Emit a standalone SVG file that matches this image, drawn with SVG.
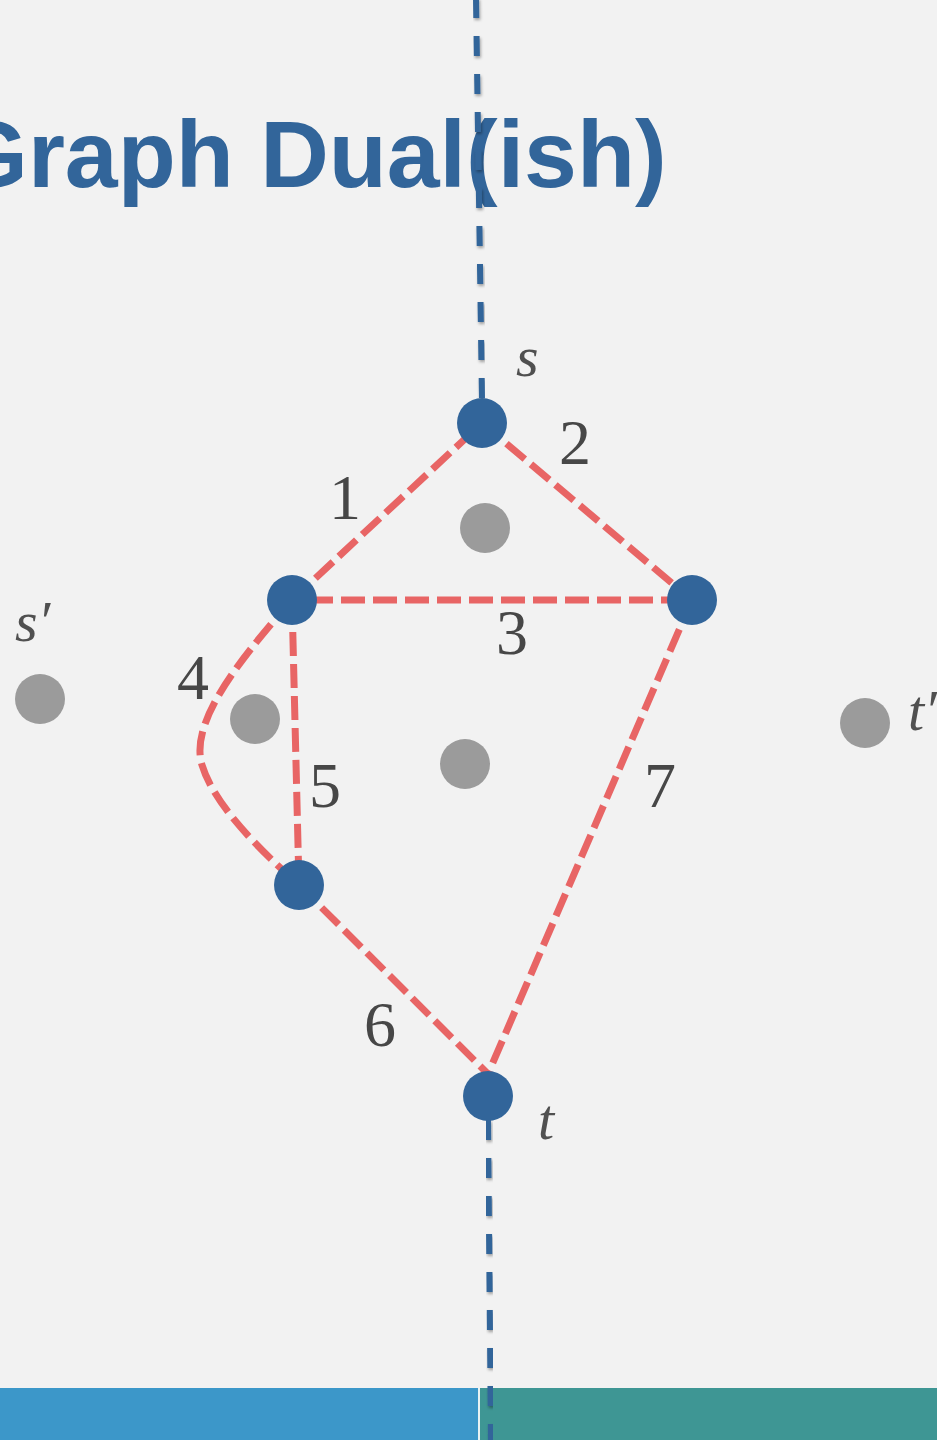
<svg xmlns="http://www.w3.org/2000/svg" width="937" height="1440" viewBox="0 0 937 1440">
  <defs>
    <filter id="sh" x="-50%" y="-5%" width="200%" height="110%">
      <feDropShadow dx="1" dy="2" stdDeviation="1.5" flood-color="#000" flood-opacity="0.35"/>
    </filter>
    <style>
      .title { font-family: "Liberation Sans", Arial, sans-serif; font-weight: bold; font-size: 95px; fill: #32659a; }
      .num { font-family: "Liberation Serif", "Times New Roman", serif; font-size: 64px; fill: #474747; }
      .var { font-family: "Liberation Serif", "Times New Roman", serif; font-style: italic; font-size: 58px; fill: #505050; }
      .red { fill: none; stroke: #e86565; stroke-width: 7; stroke-dasharray: 24 8; }
      .blue { fill: none; stroke: #32659a; stroke-width: 6; stroke-dasharray: 20 18; }
      .bn { fill: #32659a; }
      .gn { fill: #9b9b9b; }
    </style>
  </defs>
  <rect x="0" y="0" width="937" height="1440" fill="#f2f2f2"/>
  <text class="title" x="-46" y="187">Graph Dual(ish)</text>

  <g id="bottom-bar">
    <rect x="0" y="1388" width="478" height="52" fill="#3c97c9"/>
    <rect x="478" y="1388" width="2" height="52" fill="#e8f2f2"/>
    <rect x="480" y="1388" width="457" height="52" fill="#3e9694"/>
  </g>

  <g id="connectors">
    <path id="e-top" class="blue" filter="url(#sh)" d="M476 -2 L482 400"/>
    <path id="e-bottom" class="blue" filter="url(#sh)" d="M488 1120 L491 1442"/>
    <path id="e1" class="red" d="M292 600 L482 423"/>
    <path id="e2" class="red" d="M482 423 L692 600"/>
    <path id="e3" class="red" d="M309 600 L692 600"/>
    <path id="e4" class="red" d="M292 600 C232 668 190 725 202 765 C214 805 260 850 299 885"/>
    <path id="e5" class="red" d="M292 600 L299 885"/>
    <path id="e6" class="red" d="M299 885 L488 1074"/>
    <path id="e7" class="red" d="M692 600 L488 1074"/>
  </g>

  <g id="edge-labels">
    <text class="num" x="345" y="519" text-anchor="middle">1</text>
    <text class="num" x="575" y="464" text-anchor="middle">2</text>
    <text class="num" x="512" y="654" text-anchor="middle">3</text>
    <text class="num" x="193" y="699" text-anchor="middle">4</text>
    <text class="num" x="325" y="807" text-anchor="middle">5</text>
    <text class="num" x="380" y="1046" text-anchor="middle">6</text>
    <text class="num" x="660" y="807" text-anchor="middle">7</text>
  </g>

  <g id="node-s"><circle class="bn" cx="482" cy="423" r="25"/><text class="var" x="516" y="376">s</text></g>
  <g id="node-a"><circle class="bn" cx="292" cy="600" r="25"/></g>
  <g id="node-b"><circle class="bn" cx="692" cy="600" r="25"/></g>
  <g id="node-c"><circle class="bn" cx="299" cy="885" r="25"/></g>
  <g id="node-t"><circle class="bn" cx="488" cy="1096" r="25"/><text class="var" x="538" y="1139">t</text></g>

  <g id="dual-f1"><circle class="gn" cx="485" cy="528" r="25"/></g>
  <g id="dual-f2"><circle class="gn" cx="255" cy="719" r="25"/></g>
  <g id="dual-f3"><circle class="gn" cx="465" cy="764" r="25"/></g>
  <g id="node-s-prime"><circle class="gn" cx="40" cy="699" r="25"/><text class="var" x="15" y="641">s′</text></g>
  <g id="node-t-prime"><circle class="gn" cx="865" cy="723" r="25"/><text class="var" x="908" y="730">t′</text></g>
</svg>
